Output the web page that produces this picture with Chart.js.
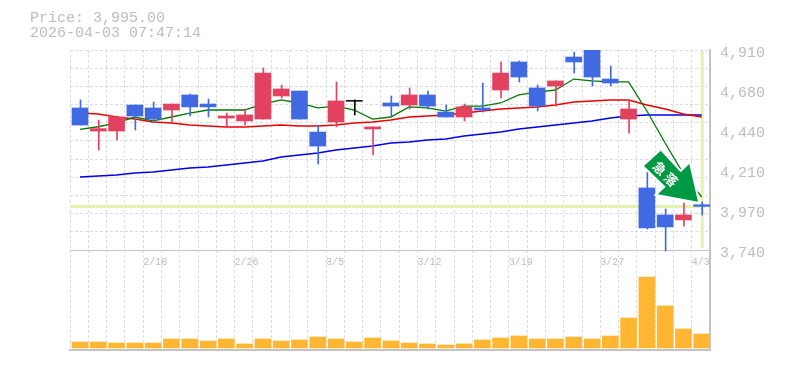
<!DOCTYPE html>
<html><head><meta charset="utf-8">
<style>html,body{margin:0;padding:0;background:#fff}canvas{display:block}</style>
<script src="https://cdn.jsdelivr.net/npm/chart.js@4/dist/chart.umd.min.js"></script>
</head><body><canvas id="c" width="785" height="370"></canvas>
<script>
const opens  = [4571,4436,4436,4588,4571,4559,4647,4594,4512,4495,4506,4641,4670,4430,4489,4615,4448,4600,4588,4647,4547,4518,4571,4676,4840,4688,4699,4869,4930,4740,4506,4103,3945,3916,4005];
const closes = [4471,4450,4518,4524,4506,4594,4577,4577,4524,4530,4775,4682,4506,4348,4612,4610,4460,4582,4647,4582,4518,4577,4559,4775,4752,4582,4729,4840,4752,4717,4565,3869,3875,3945,3995];
const highs  = [4618,4500,4524,4588,4606,4594,4653,4623,4541,4565,4805,4705,4670,4465,4723,4618,4460,4641,4688,4670,4588,4594,4717,4840,4846,4705,4729,4898,4960,4816,4618,4196,3980,4015,4021];
const lows   = [4471,4325,4383,4442,4489,4483,4524,4518,4454,4471,4506,4629,4506,4243,4460,4530,4296,4524,4565,4565,4518,4495,4547,4629,4723,4553,4582,4775,4699,4699,4424,3863,3734,3880,3945];
const maShort= [4446,4461,4483,4518,4495,4518,4541,4559,4559,4559,4594,4618,4600,4571,4582,4559,4506,4518,4577,4571,4553,4582,4582,4600,4647,4664,4676,4740,4729,4723,4723,4553,4366,4185,4050];
const maMid  = [4541,4536,4518,4506,4489,4483,4471,4465,4460,4460,4465,4471,4465,4465,4471,4483,4489,4500,4518,4524,4530,4541,4553,4565,4571,4577,4588,4606,4612,4618,4618,4588,4565,4536,4518];
const maLong = [4167,4173,4179,4190,4196,4208,4220,4226,4237,4249,4261,4284,4296,4307,4325,4337,4348,4366,4372,4383,4389,4407,4419,4430,4448,4460,4471,4483,4495,4512,4524,4530,4530,4530,4530];
const volumes= [60000,60000,50000,50000,50000,90000,90000,70000,90000,40000,90000,70000,80000,110000,90000,60000,100000,70000,50000,40000,30000,40000,80000,100000,120000,90000,90000,110000,90000,120000,300000,710000,420000,190000,140000];
const dateSlots = [4,9,14,19,24,29,34];
const dateLabels = ['2/18','2/26','3/5','3/12','3/19','3/27','4/3'];
const priceTicks = [3740,3974,4208,4442,4676,4910];
const priceTickLabels = ['3,740','3,970','4,210','4,440','4,680','4,910'];
const lastPrice = 3995;
const lastIndex = 34;
const headerLines = ['Price: 3,995.00','2026-04-03 07:47:14'];
const signText = ['急','落'];

const BLUE='#4169e1', RED='#e34160', BLACK='#000000', AMBER='#ffb733', LIME='#e4f2ad', GRID='#dcdcdc', FRAME='#c4c4c4', TEXT='#bdbdbd';
const MONO='"Liberation Mono","DejaVu Sans Mono",monospace';
const isDoji=i=>Math.abs(opens[i]-closes[i])<8;
const bodyColors=opens.map((o,i)=>isDoji(i)?BLACK:(closes[i]>o?RED:BLUE));
const idx=opens.map((_,i)=>i);
const flat=s=>{s.height=0};
const thin=s=>{s.width=0};

const overlay={
  id:'overlay',
  afterDraw(chart){
    const c=chart.ctx;
    c.save();
    c.fillStyle=TEXT;c.font='15px '+MONO;c.textBaseline='middle';c.textAlign='left';
    headerLines.forEach((t,i)=>c.fillText(t,30,18+i*15));
    c.beginPath();
    [[660.7,150.7],[644,166],[665.7,186.7],[657.7,194.3],[698,201.7],[689.3,164],[680.7,172.3]]
      .forEach((p,i)=>i?c.lineTo(p[0],p[1]):c.moveTo(p[0],p[1]));
    c.closePath();
    c.strokeStyle='#fff';c.lineWidth=4;c.lineJoin='miter';c.stroke();
    c.fillStyle='#009a44';c.fill();
    c.fillStyle='#fff';c.font='bold 13px "Noto Sans CJK JP"';c.textAlign='center';c.textBaseline='middle';
    c.translate(665.5,174);c.rotate(Math.PI/4);
    c.fillText(signText[0],-8,0);
    c.fillText(signText[1],8,0);
    c.restore();
  }
};

new Chart(document.getElementById('c'),{
  data:{datasets:[
    {type:'line',label:'price line',data:[{x:-0.55,y:lastPrice},{x:lastIndex+0.2,y:lastPrice}],xAxisID:'x',yAxisID:'y',borderColor:LIME,borderWidth:3,pointRadius:0,order:9},
    {type:'line',label:'date line',data:[{x:lastIndex,y:4904},{x:lastIndex,y:3752}],xAxisID:'xw',yAxisID:'y',borderColor:LIME,borderWidth:3,pointRadius:0,order:9},
    {type:'line',label:'long',data:idx.map(i=>({x:i,y:maLong[i]})),xAxisID:'x',yAxisID:'y',borderColor:'#0000ee',borderWidth:1.5,pointRadius:0,order:7},
    {type:'line',label:'mid',data:idx.map(i=>({x:i,y:maMid[i]})),xAxisID:'x',yAxisID:'y',borderColor:'#ee0000',borderWidth:1.5,pointRadius:0,order:6},
    {type:'line',label:'short',data:idx.map(i=>({x:i,y:maShort[i]})),xAxisID:'x',yAxisID:'y',borderColor:'#007a00',borderWidth:1.3,pointRadius:0,order:5},
    {type:'bar',label:'wick',data:idx.map(i=>({x:i,y:[lows[i],highs[i]]})),xAxisID:'xw',yAxisID:'y',backgroundColor:bodyColors,barThickness:1,grouped:false,order:3},
    {type:'bar',label:'body',data:idx.map(i=>({x:i,y:[opens[i],closes[i]]})),xAxisID:'x',yAxisID:'y',backgroundColor:bodyColors,barThickness:16,grouped:false,order:2},
    {type:'bar',label:'volume',data:idx.map(i=>({x:i,y:volumes[i]})),xAxisID:'x',yAxisID:'yv',backgroundColor:AMBER,barThickness:16,grouped:false,order:1}
  ]},
  options:{
    responsive:false,animation:false,
    layout:{padding:{left:70,top:50,right:0,bottom:20}},
    plugins:{legend:{display:false},tooltip:{enabled:false},title:{display:false}},
    scales:{
      x:{type:'linear',display:false,offset:false,min:-0.547,max:34.453},
      xw:{type:'linear',display:false,offset:false,min:-0.574,max:34.426},
      yv:{type:'linear',display:false,min:-20000,max:2980000},
      xg:{type:'linear',position:'bottom',offset:false,min:0,max:35,afterFit:flat,
        grid:{color:GRID,drawTicks:false,lineWidth:1},
        border:{display:true,color:FRAME,width:2,dash:[3,2]},
        afterBuildTicks:s=>{s.ticks=[];for(let k=0;k<=35;k++)s.ticks.push({value:k});},
        ticks:{display:false}},
      yg:{type:'linear',position:'left',min:3155,max:4910,afterFit:thin,
        grid:{color:GRID,drawTicks:false,lineWidth:1},
        border:{display:false,dash:[3,2]},
        afterBuildTicks:s=>{s.ticks=[];for(let k=0;k<=11;k++)s.ticks.push({value:3740+k*1170/11});},
        ticks:{display:false}},
      xl:{type:'linear',position:{y:3740},offset:false,min:0,max:35,afterFit:flat,
        grid:{display:false,drawTicks:false},
        border:{display:true,color:FRAME,width:1},
        afterBuildTicks:s=>{s.ticks=dateSlots.map(v=>({value:v}));},
        ticks:{color:TEXT,font:{family:MONO,size:10},align:'start',maxRotation:0,autoSkip:false,padding:6,
          callback:(v)=>dateLabels[dateSlots.indexOf(v)]}},
      y:{type:'linear',position:'right',min:3155,max:4910,afterFit:s=>{s.width=75},
        grid:{display:false,drawTicks:false},
        border:{display:true,color:FRAME,width:2},
        afterBuildTicks:s=>{s.ticks=priceTicks.map(v=>({value:v}));},
        ticks:{color:TEXT,font:{family:MONO,size:15},padding:10,labelOffset:3,autoSkip:false,
          callback:(v)=>priceTickLabels[priceTicks.indexOf(v)]}}
    }
  },
  plugins:[overlay]
});
</script></body></html>
